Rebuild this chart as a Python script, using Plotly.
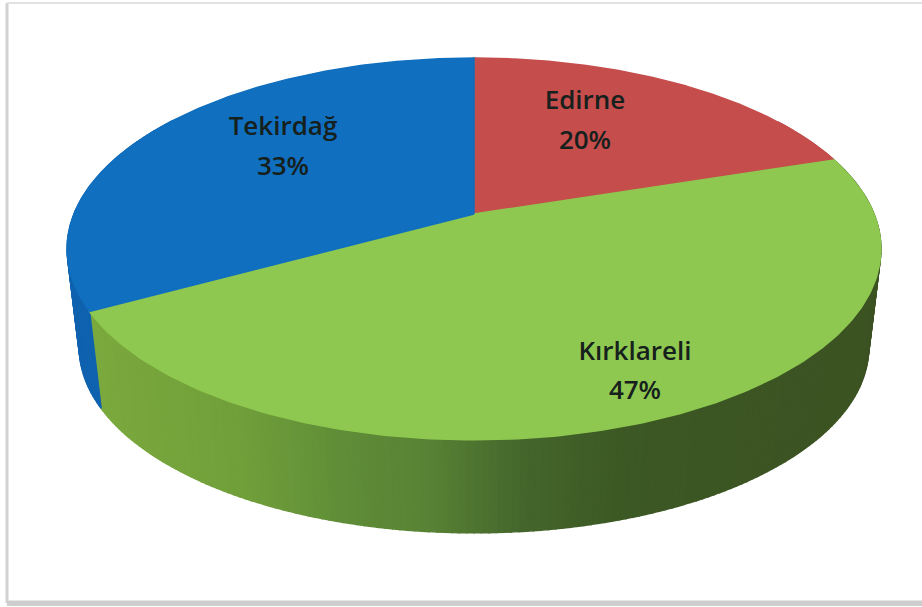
import numpy as np
import plotly.graph_objects as go

# Data
categories = ["Edirne", "Kırklareli", "Tekirdağ"]
shares = [20, 47, 33]

# Style
top_colors = ["#C54D4C", "#8EC850", "#106FBE"]
side_colors = ["#A33F3E", None, "#0F62AE"]
text_color = "#16201c"
label_font = "Open Sans"
label_size = 26

# Pie projection (pixel canvas): a disc seen in perspective
CX, CY_TOP, CY_BOTTOM = 474.0, 214.0, 313.8
A, B, K = 400.0, 184.5, 0.183
S_BOTTOM = 0.97

# Gradient along the side wall: screen x -> rgb
grad_x = [90, 250, 340, 430, 520, 620, 880]
grad_r = [124, 112, 96, 88, 68, 60, 60]
grad_g = [170, 158, 142, 130, 102, 88, 82]
grad_b = [62, 58, 56, 52, 44, 36, 34]

# Label anchors
label_x = [585, 635, 283]
label_name_y = [102, 353, 128]
label_pct_y = [142, 392, 168]


def project(theta, bottom=False):
    sx, sy = np.sin(theta), np.cos(theta)
    den = 1 + K * sy
    s = S_BOTTOM if bottom else 1.0
    cy = CY_BOTTOM if bottom else CY_TOP
    return CX + s * A * sx / den, cy - s * B * sy / den


edges = np.cumsum([0] + shares) / sum(shares) * 2 * np.pi
fig = go.Figure()


def poly(xs, ys, color):
    fig.add_trace(go.Scatter(
        x=list(xs), y=list(ys), mode="lines", fill="toself", fillcolor=color,
        line=dict(color=color, width=1.5), hoverinfo="skip", showlegend=False))


# Side wall
for i, (a0, a1) in enumerate(zip(edges[:-1], edges[1:])):
    steps = max(2, int((a1 - a0) / (2 * np.pi) * 400))
    th = np.linspace(a0, a1, steps + 1)
    for t0, t1 in zip(th[:-1], th[1:]):
        if np.cos((t0 + t1) / 2) > 0.55:
            continue
        tt = np.linspace(t0, t1, 3)
        xu, yu = project(tt)
        xl, yl = project(tt[::-1], bottom=True)
        if side_colors[i] is None:
            xm = float(np.mean(xl))
            c = "rgb({:.0f},{:.0f},{:.0f})".format(
                np.interp(xm, grad_x, grad_r),
                np.interp(xm, grad_x, grad_g),
                np.interp(xm, grad_x, grad_b))
        else:
            c = side_colors[i]
        poly(np.r_[xu, xl, xu[0]], np.r_[yu, yl, yu[0]], c)

# Top faces
for i, (a0, a1) in enumerate(zip(edges[:-1], edges[1:])):
    th = np.linspace(a0, a1, 200)
    xs, ys = project(th)
    poly(np.r_[CX, xs, CX], np.r_[CY_TOP, ys, CY_TOP], top_colors[i])

# Labels
pct_text = [f"{v}%" for v in shares]
fig.add_trace(go.Scatter(
    x=label_x + label_x, y=label_name_y + label_pct_y, mode="text",
    text=categories + pct_text, textposition="middle center",
    textfont=dict(family=label_font, size=label_size, color=text_color, weight=600),
    hoverinfo="skip", showlegend=False))

fig.update_layout(
    width=922, height=607, margin=dict(l=0, r=0, t=0, b=0),
    paper_bgcolor="white", plot_bgcolor="white", showlegend=False,
    xaxis=dict(range=[0, 922], visible=False, fixedrange=True),
    yaxis=dict(range=[607, 0], visible=False, fixedrange=True),
    shapes=[
        dict(type="line", x0=7, x1=7, y0=3, y1=603, line=dict(color="#d2d2d2", width=3)),
        dict(type="line", x0=7, x1=922, y0=3, y1=3, line=dict(color="#e2e2e2", width=2)),
        dict(type="rect", x0=7, x1=922, y0=600.5, y1=606, line=dict(width=0), fillcolor="#cdcdcd"),
    ],
)
fig.write_html("out.html", config={"displayModeBar": False},
               post_script="document.body.style.margin='0';")
